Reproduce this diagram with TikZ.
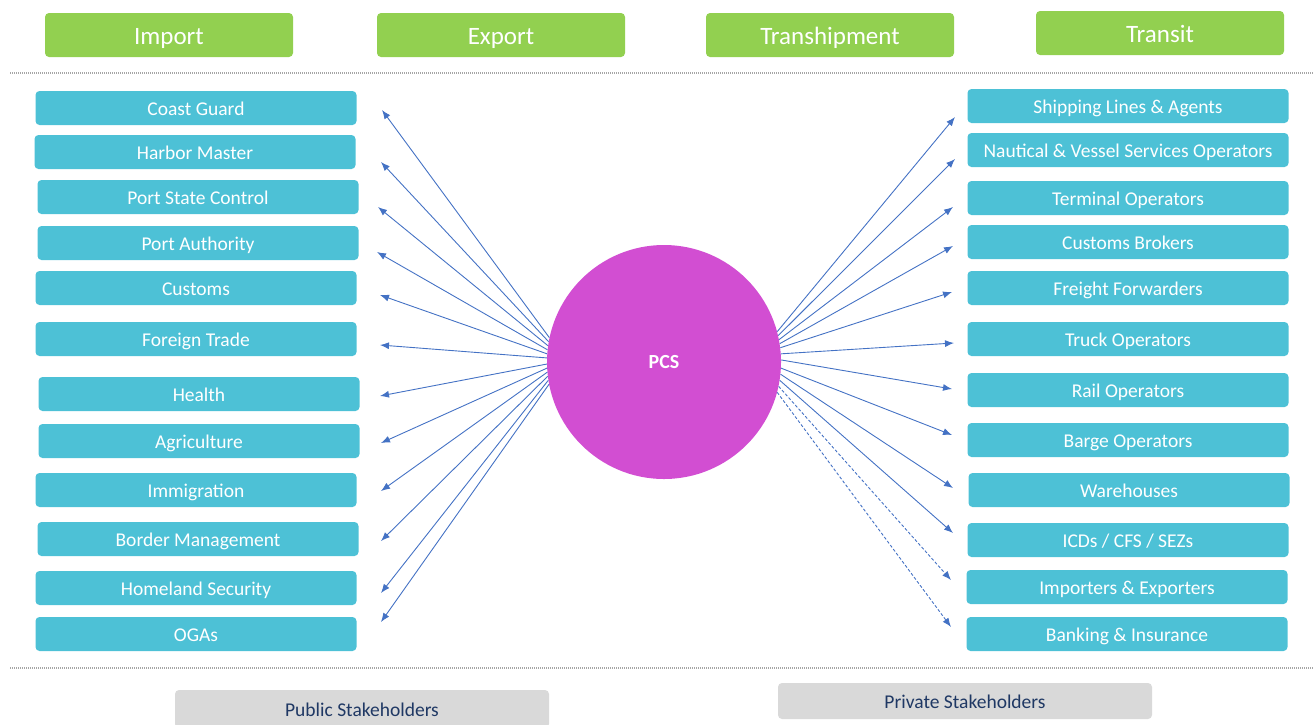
\documentclass[tikz,border=0pt]{standalone}
\usepackage{fontspec}
\setmainfont{Carlito}
\usetikzlibrary{arrows.meta}
\definecolor{hdrgreen}{HTML}{92D050}
\definecolor{boxcyan}{HTML}{4DC1D6}
\definecolor{pcsmag}{HTML}{D24ED2}
\definecolor{arrblue}{HTML}{4472C4}
\definecolor{navy}{HTML}{1F3864}
\definecolor{lgray}{HTML}{D9D9D9}
\definecolor{dotgray}{HTML}{A6A6A6}
\tikzset{
  hdr/.style={fill=hdrgreen, rounded corners=4pt, minimum width=248pt, minimum height=44pt, text=white, font=\fontsize{25}{28}\selectfont, inner sep=0pt, text height=19pt, text depth=0pt},
  lbox/.style={fill=boxcyan, rounded corners=4pt, minimum width=321pt, minimum height=34pt, text=white, font=\fontsize{19.5}{22}\selectfont, inner sep=0pt, text height=15pt, text depth=0pt},
  gbox/.style={fill=lgray, rounded corners=4pt, minimum width=374pt, minimum height=36pt, text=navy, font=\fontsize{19.5}{22}\selectfont, inner sep=0pt, text height=15pt, text depth=0pt},
  arr/.style={draw=arrblue, line width=0.9pt, -{Latex[length=9pt,width=7pt]}},
  darr/.style={arr, dash pattern=on 3pt off 2pt},
  sep/.style={draw=dotgray, line width=1.6pt, dash pattern=on 1pt off 1pt}
}
\begin{document}
\begin{tikzpicture}[x=1pt,y=-1pt]
\useasboundingbox (0,0) rectangle (1314,724);
% headers
\node[hdr] (h1) at (169,35) {Import};
\node[hdr] (h2) at (501,35) {Export};
\node[hdr] (h3) at (830,35) {Transhipment};
\node[hdr] (h4) at (1160,33) {Transit};
% separators
\coordinate (s1a) at (10,73); \coordinate (s1b) at (1314,73);
\coordinate (s2a) at (10,668); \coordinate (s2b) at (1314,668);
\draw[sep] (s1a) -- (s1b);
\draw[sep] (s2a) -- (s2b);
% left boxes
\node[lbox] (l1) at (196,108) {Coast Guard};
\node[lbox] (l2) at (195,152) {Harbor Master};
\node[lbox] (l3) at (198,197) {Port State Control};
\node[lbox] (l4) at (198,243) {Port Authority};
\node[lbox] (l5) at (196,288) {Customs};
\node[lbox] (l6) at (196,339) {Foreign Trade};
\node[lbox] (l7) at (199,394) {Health};
\node[lbox] (l8) at (199,441) {Agriculture};
\node[lbox] (l9) at (196,490) {Immigration};
\node[lbox] (l10) at (198,539) {Border Management};
\node[lbox] (l11) at (196,588) {Homeland Security};
\node[lbox] (l12) at (196,634) {OGAs};
% right boxes
\node[lbox] (r1) at (1128,106) {Shipping Lines \& Agents};
\node[lbox] (r2) at (1128,150) {Nautical \& Vessel Services Operators};
\node[lbox] (r3) at (1128,198) {Terminal Operators};
\node[lbox] (r4) at (1128,242) {Customs Brokers};
\node[lbox] (r5) at (1128,288) {Freight Forwarders};
\node[lbox] (r6) at (1128,339) {Truck Operators};
\node[lbox] (r7) at (1128,390) {Rail Operators};
\node[lbox] (r8) at (1128,440) {Barge Operators};
\node[lbox] (r9) at (1129,490) {Warehouses};
\node[lbox] (r10) at (1128,540) {ICDs / CFS / SEZs};
\node[lbox] (r11) at (1127,587) {Importers \& Exporters};
\node[lbox] (r12) at (1127,634) {Banking \& Insurance};
% PCS circle
\node[circle, fill=pcsmag, minimum size=234pt, inner sep=0pt, text=white, font=\fontsize{20}{24}\selectfont\bfseries] (pcs) at (664,362) {PCS};
% left arrow tips
\coordinate (al1) at (382,110);
\coordinate (al2) at (381,162);
\coordinate (al3) at (378,207);
\coordinate (al4) at (377,252);
\coordinate (al5) at (380,295);
\coordinate (al6) at (380,345);
\coordinate (al7) at (380,396);
\coordinate (al8) at (381,443);
\coordinate (al9) at (381,491);
\coordinate (al10) at (381,541);
\coordinate (al11) at (381,593);
\coordinate (al12) at (381,622);
\draw[arr] (pcs.168) -- (al1);
\draw[arr] (pcs.170) -- (al2);
\draw[arr] (pcs.172) -- (al3);
\draw[arr] (pcs.174) -- (al4);
\draw[arr] (pcs.176) -- (al5);
\draw[arr] (pcs.178) -- (al6);
\draw[arr] (pcs.181) -- (al7);
\draw[arr] (pcs.183) -- (al8);
\draw[arr] (pcs.185) -- (al9);
\draw[arr] (pcs.187) -- (al10);
\draw[arr] (pcs.189) -- (al11);
\draw[arr] (pcs.191) -- (al12);
% right arrow tips
\coordinate (ar1) at (955,117);
\coordinate (ar2) at (955,159);
\coordinate (ar3) at (953,207);
\coordinate (ar4) at (953,246);
\coordinate (ar5) at (952,292);
\coordinate (ar6) at (954,343);
\coordinate (ar7) at (952,389);
\coordinate (ar8) at (952,435);
\coordinate (ar9) at (953,488);
\coordinate (ar10) at (953,533);
\coordinate (ar11) at (951,580);
\coordinate (ar12) at (951,627);
\draw[arr] (pcs.15) -- (ar1);
\draw[arr] (pcs.13) -- (ar2);
\draw[arr] (pcs.11) -- (ar3);
\draw[arr] (pcs.9) -- (ar4);
\draw[arr] (pcs.7) -- (ar5);
\draw[arr] (pcs.4) -- (ar6);
\draw[arr] (pcs.1) -- (ar7);
\draw[arr] (pcs.-3) -- (ar8);
\draw[arr] (pcs.-6) -- (ar9);
\draw[arr] (pcs.-9) -- (ar10);
\draw[darr] (pcs.-12) -- (ar11);
\draw[darr] (pcs.-15) -- (ar12);
% bottom labels
\node[gbox, minimum height=38pt] (pub) at (362,709) {Public Stakeholders};
\node[gbox] (priv) at (965,701) {Private Stakeholders};
\end{tikzpicture}
\end{document}
